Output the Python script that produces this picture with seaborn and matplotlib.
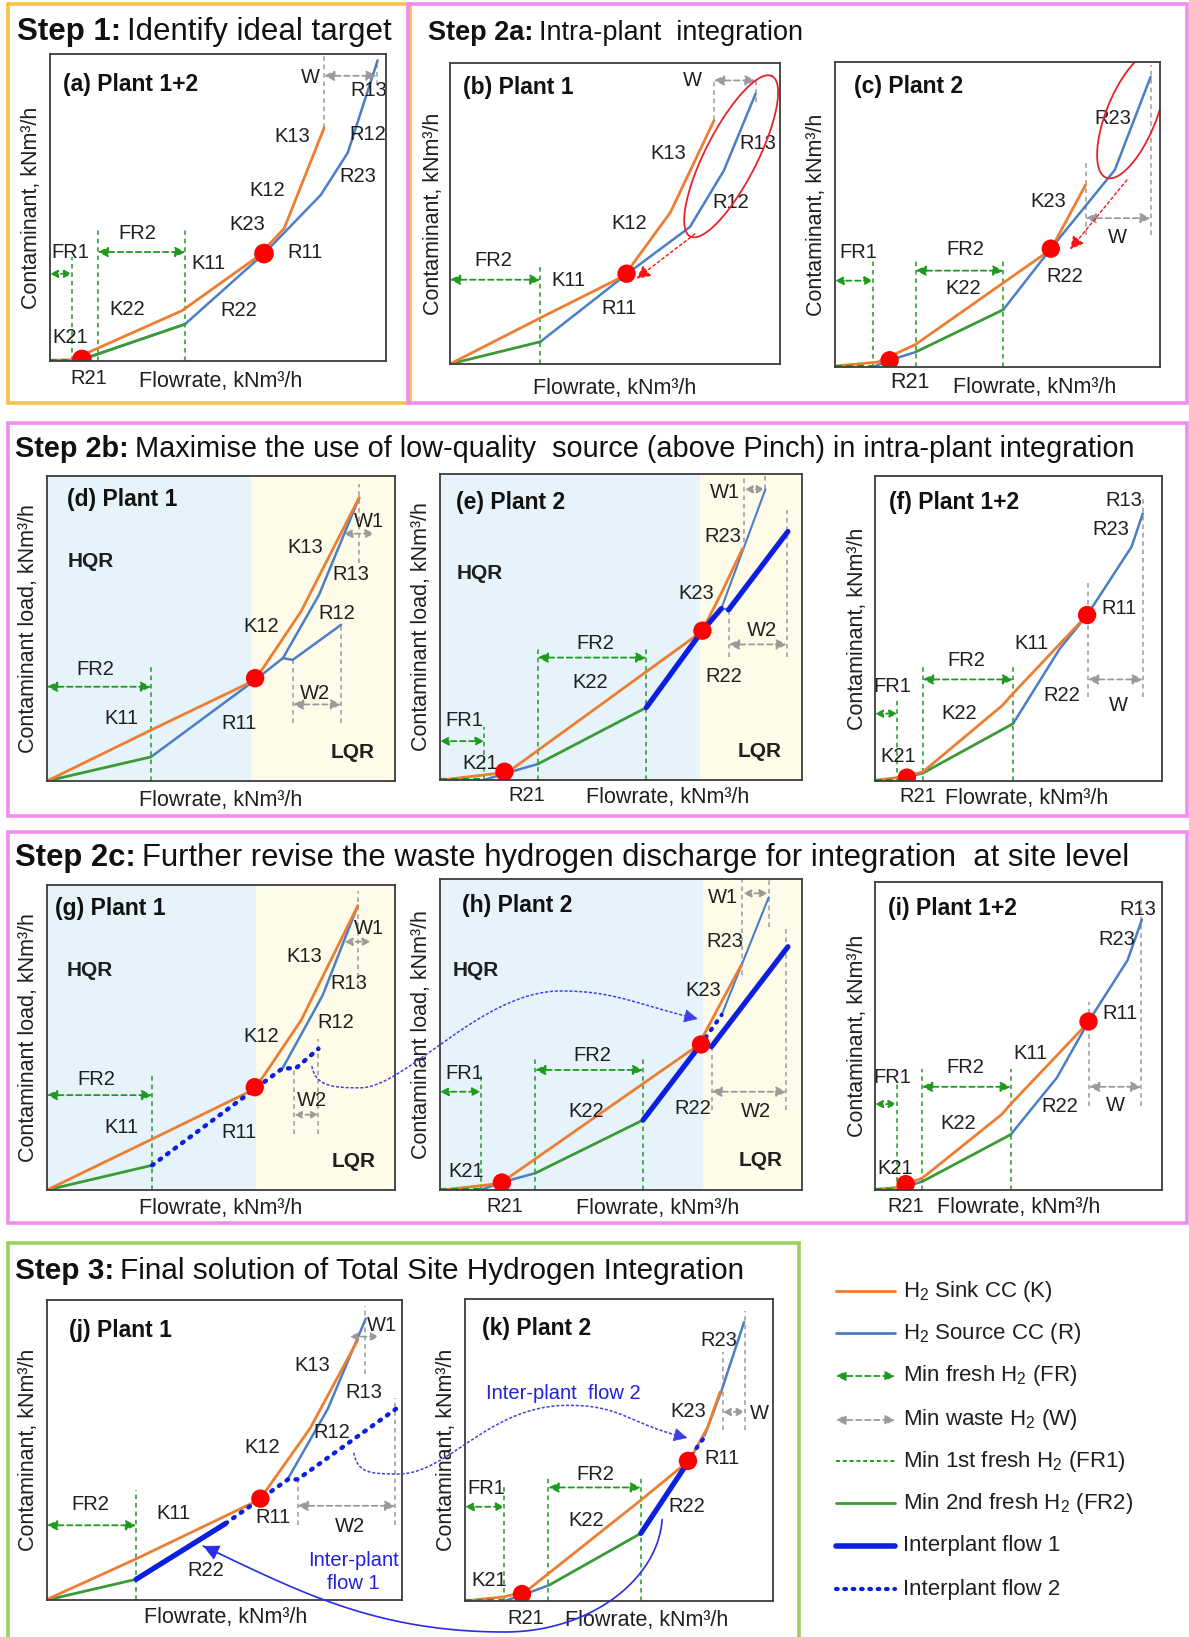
import numpy as np
import matplotlib
matplotlib.use("Agg")
import matplotlib.pyplot as plt
import seaborn as sns

sns.set_theme(style="white")
plt.rcParams["font.family"] = ["Liberation Sans", "DejaVu Sans"]
plt.rcParams["mathtext.fontset"] = "custom"
plt.rcParams["mathtext.rm"] = "Liberation Sans"
plt.rcParams["mathtext.it"] = "Liberation Sans:italic"
plt.rcParams["mathtext.bf"] = "Liberation Sans:bold"

# ---------------- DATA (curve vertices, fractions of each panel) ----------------
A_SINK = [(0, 0.002), (0.065, 0.004), (0.393, 0.164), (0.617, 0.339), (0.697, 0.432), (0.816, 0.760)]
A_SOURCE = [(0.065, 0.0), (0.095, 0.005), (0.402, 0.12), (0.637, 0.35), (0.806, 0.541), (0.886, 0.678), (0.975, 0.979)]
A_FR2 = [(0.095, 0.005), (0.402, 0.12)]
A_PINCH = [(0.095, 0.005), (0.637, 0.35)]

B_SINK = [(0, 0), (0.277, 0.155), (0.528, 0.293), (0.668, 0.504), (0.80, 0.809)]
B_FR2 = [(0, 0), (0.274, 0.074)]
B_SOURCE = [(0.274, 0.074), (0.543, 0.305), (0.727, 0.455), (0.83, 0.643), (0.926, 0.898)]
B_PINCH = [(0.535, 0.30)]

C_SINK = [(0, 0.003), (0.131, 0.016), (0.248, 0.074), (0.518, 0.276), (0.664, 0.385), (0.771, 0.597)]
C_SOURCE_LOW = [(0.117, 0), (0.168, 0.022), (0.248, 0.049)]
C_FR2 = [(0.248, 0.049), (0.518, 0.188)]
C_SOURCE = [(0.518, 0.188), (0.664, 0.388), (0.861, 0.646), (0.971, 0.951)]
C_PINCH = [(0.168, 0.022), (0.664, 0.388)]

D_SINK = [(0, 0), (0.299, 0.167), (0.598, 0.331), (0.730, 0.556), (0.897, 0.929)]
D_FR2 = [(0, 0), (0.299, 0.079)]
D_SOURCE = [(0.299, 0.079), (0.598, 0.331), (0.678, 0.403), (0.782, 0.611), (0.897, 0.929)]
D_SOURCE_R12 = [(0.678, 0.403), (0.706, 0.397), (0.845, 0.512)]
D_PINCH = [(0.598, 0.337)]

E_SINK = [(0.005, 0), (0.161, 0.022), (0.196, 0.033), (0.57, 0.354), (0.723, 0.485), (0.777, 0.61), (0.836, 0.757)]
E_SOURCE_LOW = [(0.122, 0), (0.181, 0.022), (0.27, 0.052)]
E_FR2 = [(0.27, 0.052), (0.57, 0.237)]
E_IP1 = [(0.57, 0.237), (0.723, 0.485), (0.777, 0.56)]
E_SOURCE_UP = [(0.777, 0.56), (0.899, 0.95)]
E_KINK = [(0.777, 0.56), (0.797, 0.558)]
E_IP1_SHIFT = [(0.797, 0.556), (0.961, 0.812)]
E_PINCH = [(0.178, 0.027), (0.725, 0.488)]

F_SINK = [(0, 0.002), (0.094, 0.013), (0.167, 0.03), (0.444, 0.248), (0.481, 0.287), (0.739, 0.544)]
F_SOURCE_LOW = [(0.078, 0), (0.111, 0.011), (0.167, 0.026)]
F_FR2 = [(0.167, 0.026), (0.481, 0.188)]
F_SOURCE = [(0.481, 0.188), (0.644, 0.434), (0.739, 0.544), (0.894, 0.768), (0.933, 0.877)]
F_PINCH = [(0.111, 0.011), (0.739, 0.544)]

G_SINK = [(0, 0), (0.302, 0.167), (0.597, 0.331), (0.73, 0.556), (0.893, 0.932)]
G_FR2 = [(0, 0), (0.302, 0.081)]
G_IP2 = [(0.302, 0.081), (0.597, 0.331), (0.677, 0.399), (0.715, 0.399), (0.78, 0.463)]
G_SOURCE = [(0.677, 0.399), (0.792, 0.638), (0.893, 0.932)]
G_PINCH = [(0.597, 0.337)]

H_SINK = [(0.008, 0), (0.166, 0.021), (0.556, 0.338), (0.714, 0.466), (0.778, 0.606), (0.832, 0.723)]
H_SOURCE_LOW = [(0.112, 0), (0.171, 0.025), (0.263, 0.054)]
H_FR2 = [(0.263, 0.054), (0.561, 0.225)]
H_IP1 = [(0.561, 0.225), (0.719, 0.466)]
H_IP1_SHIFT = [(0.75, 0.461), (0.961, 0.782)]
H_IP2 = [(0.719, 0.466), (0.778, 0.563)]
H_SOURCE_UP = [(0.778, 0.563), (0.908, 0.941)]
H_PINCH = [(0.171, 0.024), (0.721, 0.468)]

I_SINK = [(0, 0.002), (0.075, 0.008), (0.164, 0.038), (0.441, 0.245), (0.473, 0.279), (0.744, 0.545)]
I_SOURCE_LOW = [(0.075, 0), (0.107, 0.011), (0.164, 0.027)]
I_FR2 = [(0.164, 0.027), (0.473, 0.18)]
I_SOURCE = [(0.473, 0.18), (0.634, 0.365), (0.744, 0.547), (0.88, 0.746), (0.93, 0.878)]
I_PINCH = [(0.107, 0.019), (0.744, 0.547)]

J_SINK = [(0, 0.002), (0.251, 0.137), (0.599, 0.335), (0.741, 0.572), (0.876, 0.868)]
J_FR2 = [(0, 0), (0.251, 0.069)]
J_IP1 = [(0.251, 0.069), (0.503, 0.255)]
J_IP2 = [(0.503, 0.255), (0.599, 0.335), (0.679, 0.402), (0.706, 0.402), (0.983, 0.637)]
J_SOURCE = [(0.679, 0.405), (0.791, 0.637), (0.898, 0.938)]
J_PINCH = [(0.601, 0.338)]

K_SINK = [(0, 0), (0.128, 0.014), (0.197, 0.031), (0.571, 0.334), (0.729, 0.466), (0.788, 0.576), (0.828, 0.692)]
K_SOURCE_LOW = [(0.128, 0), (0.187, 0.02), (0.274, 0.053)]
K_FR2 = [(0.274, 0.053), (0.571, 0.224)]
K_IP1 = [(0.571, 0.224), (0.724, 0.46)]
K_IP2 = [(0.734, 0.482), (0.778, 0.543)]
K_SOURCE_UP = [(0.778, 0.548), (0.833, 0.697), (0.906, 0.923)]
K_PINCH = [(0.185, 0.023), (0.724, 0.464)]

LEGEND_LABELS = [r"H$_2$ Sink CC (K)", r"H$_2$ Source CC (R)", r"Min fresh H$_2$ (FR)",
                 r"Min waste H$_2$ (W)", r"Min 1st fresh H$_2$ (FR1)", r"Min 2nd fresh H$_2$ (FR2)",
                 "Interplant flow 1", "Interplant flow 2"]

# ---------------- STYLE ----------------
ORANGE = "#ED7D31"
BLUE = "#4A7EC7"
GREEN = "#3A9A35"
DGREEN = "#1E9B1E"
IPBLUE = "#0A1FE0"
IP2C = "#3F3FE8"
GREY = "#9A9A9A"
HQR_BG = "#E6F3FB"
LQR_BG = "#FEFCE9"
GOLD = "#F5C445"
MAGENTA = "#F28CF0"
LGREEN = "#9BD35A"
TXT = "#1f1f1f"
LBL = 14.5

W, H = 1189, 1637
fig = plt.figure(figsize=(W / 100, H / 100), dpi=100)
fig.patch.set_facecolor("white")

RA = (50, 54, 386, 361)
RB = (450, 63, 780, 364)
RC = (835, 62, 1160, 367)
RD = (47, 476, 395, 781)
RE = (440, 474, 802, 780)
RF = (875, 476, 1162, 781)
RG = (47, 885, 395, 1190)
RH = (440, 879, 802, 1190)
RI = (875, 882, 1162, 1190)
RJ = (47, 1300, 402, 1600)
RK = (465, 1299, 773, 1601)


def mk(rect):
    x0, y0, x1, y1 = rect
    ax = fig.add_axes([x0 / W, 1 - y1 / H, (x1 - x0) / W, (y1 - y0) / H])
    ax.set_facecolor("white")
    for s in ax.spines.values():
        s.set_visible(True)
        s.set_color("#3c3c3c")
        s.set_linewidth(1.3)
        s.set_zorder(20)
    return ax


def fin(ax):
    ax.set_xlim(0, 1)
    ax.set_ylim(0, 1)
    ax.set_xticks([])
    ax.set_yticks([])
    ax.set_xlabel("")
    ax.set_ylabel("")


def line(ax, pts, color, lw=1.8, ls="-", z=3, cap="round"):
    xs = [p[0] for p in pts]
    ys = [p[1] for p in pts]
    sns.lineplot(x=xs, y=ys, sort=False, estimator=None, color=color, linewidth=lw,
                 linestyle=ls, ax=ax, zorder=z, legend=False,
                 solid_capstyle=cap, dash_capstyle=cap)


def dots(ax, pts, s=175):
    sns.scatterplot(x=[p[0] for p in pts], y=[p[1] for p in pts], s=s, color="#FF0000",
                    edgecolor="none", linewidth=0, ax=ax, zorder=8, legend=False)


def vl(ax, x, y0, y1, color):
    ax.plot([x, x], [y0, y1], color=color, lw=1.1, ls=(0, (3, 2.5)), zorder=2)


def darrow(ax, x0, x1, y, color, ms=15):
    ax.annotate("", xy=(x1, y), xytext=(x0, y),
                arrowprops=dict(arrowstyle="<|-|>", color=color, lw=1.3, linestyle=(0, (3, 2)),
                                mutation_scale=ms, shrinkA=0, shrinkB=0),
                annotation_clip=False, zorder=4)


def fr1base(ax, x1):
    ax.plot([0, x1], [0.004, 0.004], color=DGREEN, lw=1.6, ls=(0, (3, 2)), zorder=4)


def t(ax, s, x, y, size=LBL, ha="center", **kw):
    ax.text(x, y, s, fontsize=size, ha=ha, va="center", color=kw.pop("color", TXT), **kw)


def plabel(ax, s, x, y):
    ax.text(x, y, s, fontsize=16.5, fontweight="bold", ha="left", va="center", color="#111111")


def axlabels(ax, ylab, xl_x, xl_y=-0.065, yl_x=-0.055):
    ax.text(xl_x, xl_y, "Flowrate, kNm³/h", fontsize=15.5, ha="center", va="center", color=TXT)
    ax.text(yl_x, 0.5, ylab, fontsize=15.5, ha="center", va="center", rotation=90, color=TXT)


def bg(ax, split):
    ax.axvspan(0, split, color=HQR_BG, zorder=0, lw=0)
    ax.axvspan(split, 1, color=LQR_BG, zorder=0, lw=0)


def ellipse(ax, rect, cx, cy, L, m, ang):
    x0, y0, x1, y1 = rect
    w, h = x1 - x0, y1 - y0
    tt = np.linspace(0, 2 * np.pi, 200)
    a = np.deg2rad(ang)
    ex = L / 2 * np.cos(tt) * np.cos(a) - m / 2 * np.sin(tt) * np.sin(a)
    ey = L / 2 * np.cos(tt) * np.sin(a) + m / 2 * np.sin(tt) * np.cos(a)
    ax.plot(cx + ex / w, cy + ey / h, color="#E8212B", lw=1.3, zorder=5)


def redarrow(ax, p0, p1):
    ax.annotate("", xy=p1, xytext=p0,
                arrowprops=dict(arrowstyle="-|>", color="#FF1010", lw=1.0, linestyle=(0, (2, 2)),
                                mutation_scale=20, shrinkA=0, shrinkB=0), zorder=6)


CONT = "Contaminant, kNm³/h"
CONTL = "Contaminant load, kNm³/h"

# ---------------- (a) ----------------
ax = mk(RA)
line(ax, A_SOURCE, BLUE)
line(ax, A_FR2, GREEN, lw=2)
line(ax, A_SINK, ORANGE, lw=2)
fr1base(ax, 0.065)
vl(ax, 0.065, 0, 0.339, DGREEN); vl(ax, 0.142, 0, 0.432, DGREEN); vl(ax, 0.403, 0, 0.432, DGREEN)
vl(ax, 0.816, 0.76, 1.0, GREY); vl(ax, 0.972, 0.9, 0.97, GREY)
darrow(ax, 0.0, 0.065, 0.284, DGREEN, ms=11)
darrow(ax, 0.142, 0.403, 0.355, DGREEN)
darrow(ax, 0.816, 0.972, 0.929, GREY)
dots(ax, A_PINCH, s=200)
plabel(ax, "(a) Plant 1+2", 0.04, 0.902)
for s, x, y in [("W", 0.776, 0.924), ("R13", 0.95, 0.88), ("K13", 0.72, 0.73), ("R12", 0.945, 0.738),
                ("R23", 0.915, 0.60), ("K12", 0.647, 0.557), ("K23", 0.587, 0.443), ("R11", 0.76, 0.355),
                ("FR2", 0.26, 0.415), ("FR1", 0.06, 0.355), ("K11", 0.473, 0.317), ("K22", 0.229, 0.169),
                ("R22", 0.562, 0.164), ("K21", 0.06, 0.077), ("R21", 0.114, -0.058)]:
    t(ax, s, x, y)
axlabels(ax, CONT, 0.507, -0.068, -0.055)
fin(ax)

# ---------------- (b) ----------------
ax = mk(RB)
line(ax, B_SOURCE, BLUE)
line(ax, B_FR2, GREEN, lw=2)
line(ax, B_SINK, ORANGE, lw=2)
vl(ax, 0.274, 0, 0.33, DGREEN)
vl(ax, 0.80, 0.81, 0.95, GREY); vl(ax, 0.926, 0.87, 0.95, GREY)
darrow(ax, 0.0, 0.274, 0.28, DGREEN)
darrow(ax, 0.80, 0.926, 0.942, GREY)
ellipse(ax, RB, 0.852, 0.69, 180, 52, 63)
redarrow(ax, (0.742, 0.432), (0.565, 0.283))
dots(ax, B_PINCH)
plabel(ax, "(b) Plant 1", 0.04, 0.92)
for s, x, y in [("W", 0.735, 0.942), ("K13", 0.66, 0.698), ("R13", 0.934, 0.732), ("R12", 0.852, 0.538),
                ("K12", 0.543, 0.466), ("FR2", 0.13, 0.344), ("K11", 0.358, 0.277), ("R11", 0.513, 0.183)]:
    t(ax, s, x, y)
axlabels(ax, CONT, 0.5, -0.083, -0.05)
fin(ax)

# ---------------- (c) ----------------
ax = mk(RC)
line(ax, C_SOURCE_LOW, BLUE)
line(ax, C_SOURCE, BLUE)
line(ax, C_FR2, GREEN, lw=2)
line(ax, C_SINK, ORANGE, lw=2)
fr1base(ax, 0.117)
vl(ax, 0.117, 0, 0.352, DGREEN); vl(ax, 0.248, 0, 0.352, DGREEN); vl(ax, 0.518, 0, 0.352, DGREEN)
vl(ax, 0.771, 0.434, 0.673, GREY); vl(ax, 0.971, 0.434, 0.99, GREY)
darrow(ax, 0.0, 0.117, 0.283, DGREEN, ms=12)
darrow(ax, 0.248, 0.518, 0.316, DGREEN)
darrow(ax, 0.771, 0.971, 0.488, GREY)
ellipse(ax, RC, 0.912, 0.826, 135, 50, 68)
redarrow(ax, (0.898, 0.613), (0.723, 0.385))
dots(ax, C_PINCH)
plabel(ax, "(c) Plant 2", 0.058, 0.92)
for s, x, y in [("R23", 0.854, 0.815), ("K23", 0.657, 0.542), ("FR1", 0.073, 0.374), ("FR2", 0.401, 0.385),
                ("K22", 0.394, 0.259), ("R22", 0.708, 0.297), ("W", 0.869, 0.425), ("R21", 0.231, -0.05)]:
    t(ax, s, x, y, size=15.5 if s == "R21" else LBL)
axlabels(ax, CONT, 0.613, -0.068, -0.058)
fin(ax)

# ---------------- (d) ----------------
ax = mk(RD)
bg(ax, 0.586)
line(ax, D_SOURCE, BLUE)
line(ax, D_SOURCE_R12, BLUE)
line(ax, D_FR2, GREEN, lw=2)
line(ax, D_SINK, ORANGE, lw=2)
vl(ax, 0.299, 0, 0.376, DGREEN)
vl(ax, 0.897, 0.715, 0.973, GREY); vl(ax, 0.707, 0.189, 0.397, GREY); vl(ax, 0.845, 0.189, 0.512, GREY)
darrow(ax, 0.0, 0.299, 0.309, DGREEN)
darrow(ax, 0.853, 0.94, 0.811, GREY, ms=12)
darrow(ax, 0.707, 0.845, 0.251, GREY)
dots(ax, D_PINCH)
plabel(ax, "(d) Plant 1", 0.057, 0.923)
t(ax, "HQR", 0.06, 0.72, size=15, ha="left", fontweight="bold")
t(ax, "LQR", 0.879, 0.095, size=15, fontweight="bold")
for s, x, y in [("K13", 0.741, 0.764), ("R13", 0.874, 0.677), ("R12", 0.833, 0.548), ("K12", 0.615, 0.507),
                ("K11", 0.213, 0.205), ("R11", 0.552, 0.189), ("FR2", 0.138, 0.364), ("W1", 0.925, 0.852),
                ("W2", 0.77, 0.287)]:
    t(ax, s, x, y)
axlabels(ax, CONTL, 0.5, -0.064, -0.052)
fin(ax)

# ---------------- (e) ----------------
ax = mk(RE)
bg(ax, 0.717)
line(ax, E_SOURCE_LOW, BLUE)
line(ax, E_SOURCE_UP, BLUE, lw=1.5)
line(ax, E_KINK, BLUE, lw=1.5)
line(ax, E_FR2, GREEN, lw=2)
line(ax, E_SINK, ORANGE, lw=2)
line(ax, E_IP1, IPBLUE, lw=3.8, z=4)
line(ax, E_IP1_SHIFT, IPBLUE, lw=3.8, z=4)
fr1base(ax, 0.122)
vl(ax, 0.122, 0, 0.174, DGREEN); vl(ax, 0.27, 0, 0.43, DGREEN); vl(ax, 0.57, 0, 0.43, DGREEN)
vl(ax, 0.839, 0.779, 0.997, GREY); vl(ax, 0.899, 0.95, 0.997, GREY)
vl(ax, 0.798, 0.403, 0.556, GREY); vl(ax, 0.958, 0.403, 0.882, GREY)
darrow(ax, 0.0, 0.122, 0.127, DGREEN, ms=12)
darrow(ax, 0.27, 0.57, 0.40, DGREEN)
darrow(ax, 0.842, 0.897, 0.95, GREY, ms=11)
darrow(ax, 0.798, 0.958, 0.443, GREY)
dots(ax, E_PINCH)
plabel(ax, "(e) Plant 2", 0.045, 0.907)
t(ax, "HQR", 0.045, 0.674, size=15, ha="left", fontweight="bold")
t(ax, "LQR", 0.884, 0.093, size=15, fontweight="bold")
for s, x, y in [("W1", 0.787, 0.94), ("R23", 0.78, 0.797), ("K23", 0.709, 0.61), ("W2", 0.89, 0.49),
                ("R22", 0.784, 0.338), ("FR2", 0.43, 0.447), ("K22", 0.415, 0.318), ("FR1", 0.068, 0.196),
                ("K21", 0.112, 0.054), ("R21", 0.24, -0.052)]:
    t(ax, s, x, y)
axlabels(ax, CONTL, 0.63, -0.058, -0.052)
fin(ax)

# ---------------- (f) ----------------
ax = mk(RF)
line(ax, F_SOURCE_LOW, BLUE)
line(ax, F_SOURCE, BLUE)
line(ax, F_FR2, GREEN, lw=2)
line(ax, F_SINK, ORANGE, lw=2)
fr1base(ax, 0.078)
vl(ax, 0.078, 0, 0.265, DGREEN); vl(ax, 0.167, 0, 0.374, DGREEN); vl(ax, 0.481, 0, 0.374, DGREEN)
vl(ax, 0.742, 0.276, 0.648, GREY); vl(ax, 0.933, 0.276, 0.932, GREY)
darrow(ax, 0.0, 0.078, 0.221, DGREEN, ms=11)
darrow(ax, 0.167, 0.481, 0.333, DGREEN)
darrow(ax, 0.742, 0.933, 0.333, GREY)
dots(ax, F_PINCH)
plabel(ax, "(f) Plant 1+2", 0.05, 0.912)
for s, x, y in [("R13", 0.867, 0.921), ("R23", 0.822, 0.823), ("R11", 0.85, 0.566), ("K11", 0.544, 0.451),
                ("FR2", 0.317, 0.396), ("FR1", 0.061, 0.309), ("R22", 0.65, 0.281), ("W", 0.848, 0.248),
                ("K22", 0.294, 0.221), ("K21", 0.081, 0.079), ("R21", 0.148, -0.052)]:
    t(ax, s, x, y)
axlabels(ax, CONT, 0.53, -0.058, -0.06)
fin(ax)

# ---------------- (g) ----------------
ax = mk(RG)
bg(ax, 0.601)
line(ax, G_SOURCE, BLUE)
line(ax, G_FR2, GREEN, lw=2)
line(ax, G_SINK, ORANGE, lw=2)
line(ax, G_IP2, IPBLUE, lw=3.2, ls=(0, (0.4, 1.7)), z=5)
vl(ax, 0.302, 0, 0.375, DGREEN)
vl(ax, 0.893, 0.67, 0.98, GREY); vl(ax, 0.711, 0.183, 0.397, GREY); vl(ax, 0.78, 0.183, 0.496, GREY)
darrow(ax, 0.0, 0.302, 0.311, DGREEN)
darrow(ax, 0.855, 0.93, 0.814, GREY, ms=11)
darrow(ax, 0.711, 0.78, 0.247, GREY, ms=10)
dots(ax, G_PINCH)
plabel(ax, "(g) Plant 1", 0.022, 0.923)
t(ax, "HQR", 0.057, 0.72, size=15, ha="left", fontweight="bold")
t(ax, "LQR", 0.88, 0.095, size=15, fontweight="bold")
for s, x, y in [("K13", 0.74, 0.764), ("R13", 0.868, 0.677), ("R12", 0.83, 0.55), ("K12", 0.616, 0.504),
                ("K11", 0.214, 0.205), ("R11", 0.553, 0.189), ("FR2", 0.141, 0.362), ("W1", 0.925, 0.857),
                ("W2", 0.761, 0.293)]:
    t(ax, s, x, y)
axlabels(ax, CONTL, 0.5, -0.062, -0.052)
fin(ax)

# ---------------- (h) ----------------
ax = mk(RH)
bg(ax, 0.727)
line(ax, H_SOURCE_LOW, BLUE)
line(ax, H_SOURCE_UP, BLUE, lw=1.5)
line(ax, H_FR2, GREEN, lw=2)
line(ax, H_SINK, ORANGE, lw=2)
line(ax, H_IP1, IPBLUE, lw=3.8, z=4)
line(ax, H_IP1_SHIFT, IPBLUE, lw=3.8, z=4)
line(ax, H_IP2, IPBLUE, lw=3.0, ls=(0, (0.4, 1.8)), z=5)
fr1base(ax, 0.112)
vl(ax, 0.112, 0, 0.375, DGREEN); vl(ax, 0.263, 0, 0.423, DGREEN); vl(ax, 0.561, 0, 0.423, DGREEN)
vl(ax, 0.835, 0.691, 1.0, GREY); vl(ax, 0.908, 0.847, 1.0, GREY)
vl(ax, 0.75, 0.257, 0.461, GREY); vl(ax, 0.957, 0.257, 0.841, GREY)
darrow(ax, 0.0, 0.112, 0.316, DGREEN, ms=12)
darrow(ax, 0.263, 0.561, 0.386, DGREEN)
darrow(ax, 0.838, 0.905, 0.954, GREY, ms=11)
darrow(ax, 0.75, 0.957, 0.316, GREY)
dots(ax, H_PINCH)
plabel(ax, "(h) Plant 2", 0.062, 0.916)
t(ax, "HQR", 0.035, 0.707, size=15, ha="left", fontweight="bold")
t(ax, "LQR", 0.886, 0.096, size=15, fontweight="bold")
for s, x, y in [("W1", 0.783, 0.941), ("R23", 0.788, 0.798), ("K23", 0.727, 0.643), ("FR2", 0.422, 0.434),
                ("FR1", 0.067, 0.375), ("R22", 0.697, 0.263), ("W2", 0.872, 0.252), ("K22", 0.403, 0.254),
                ("K21", 0.072, 0.061), ("R21", 0.18, -0.052)]:
    t(ax, s, x, y)
axlabels(ax, CONTL, 0.6, -0.058, -0.052)
fin(ax)

# ---------------- (i) ----------------
ax = mk(RI)
line(ax, I_SOURCE_LOW, BLUE)
line(ax, I_SOURCE, BLUE)
line(ax, I_FR2, GREEN, lw=2)
line(ax, I_SINK, ORANGE, lw=2)
fr1base(ax, 0.075)
vl(ax, 0.075, 0, 0.355, DGREEN); vl(ax, 0.164, 0, 0.392, DGREEN); vl(ax, 0.473, 0, 0.392, DGREEN)
vl(ax, 0.746, 0.274, 0.612, GREY); vl(ax, 0.928, 0.274, 0.944, GREY)
darrow(ax, 0.0, 0.075, 0.279, DGREEN, ms=11)
darrow(ax, 0.164, 0.473, 0.335, DGREEN)
darrow(ax, 0.746, 0.928, 0.335, GREY)
dots(ax, I_PINCH)
plabel(ax, "(i) Plant 1+2", 0.044, 0.914)
for s, x, y in [("R13", 0.916, 0.91), ("R23", 0.843, 0.813), ("R11", 0.854, 0.574), ("K11", 0.54, 0.442),
                ("FR2", 0.316, 0.397), ("FR1", 0.06, 0.365), ("R22", 0.645, 0.27), ("W", 0.836, 0.274),
                ("K22", 0.289, 0.215), ("K21", 0.07, 0.07), ("R21", 0.107, -0.052)]:
    t(ax, s, x, y)
axlabels(ax, CONT, 0.5, -0.058, -0.06)
fin(ax)

# ---------------- (j) ----------------
ax = mk(RJ)
line(ax, J_SOURCE, BLUE)
line(ax, J_FR2, GREEN, lw=2)
line(ax, J_SINK, ORANGE, lw=2)
line(ax, J_IP1, IPBLUE, lw=3.8, z=4)
line(ax, J_IP2, IPBLUE, lw=3.2, ls=(0, (0.4, 1.7)), z=5)
vl(ax, 0.251, 0, 0.368, DGREEN)
vl(ax, 0.895, 0.755, 0.981, GREY); vl(ax, 0.706, 0.249, 0.4, GREY); vl(ax, 0.981, 0.249, 0.674, GREY)
darrow(ax, 0.0, 0.251, 0.249, DGREEN)
darrow(ax, 0.853, 0.935, 0.878, GREY, ms=11)
darrow(ax, 0.706, 0.981, 0.314, GREY)
dots(ax, J_PINCH)
plabel(ax, "(j) Plant 1", 0.062, 0.9)
for s, x, y in [("W1", 0.944, 0.916), ("K13", 0.746, 0.782), ("R13", 0.893, 0.69), ("R12", 0.802, 0.559),
                ("K12", 0.605, 0.508), ("FR2", 0.122, 0.319), ("K11", 0.356, 0.287), ("R11", 0.638, 0.276),
                ("W2", 0.853, 0.244), ("R22", 0.446, 0.099)]:
    t(ax, s, x, y)
t(ax, "Inter-plant", 0.864, 0.131, color="#2020E0")
t(ax, "flow 1", 0.864, 0.056, color="#2020E0")
axlabels(ax, CONT, 0.503, -0.06, -0.051)
fin(ax)

# ---------------- (k) ----------------
ax = mk(RK)
line(ax, K_SOURCE_LOW, BLUE)
line(ax, K_SOURCE_UP, BLUE)
line(ax, K_FR2, GREEN, lw=2)
line(ax, K_SINK, ORANGE, lw=2)
line(ax, K_IP1, IPBLUE, lw=3.8, z=4)
line(ax, K_IP2, IPBLUE, lw=3.0, ls=(0, (0.4, 1.8)), z=5)
fr1base(ax, 0.128)
vl(ax, 0.128, 0, 0.378, DGREEN); vl(ax, 0.271, 0, 0.411, DGREEN); vl(ax, 0.571, 0, 0.411, DGREEN)
vl(ax, 0.837, 0.565, 0.824, GREY); vl(ax, 0.908, 0.565, 0.961, GREY)
darrow(ax, 0.0, 0.128, 0.312, DGREEN, ms=12)
darrow(ax, 0.271, 0.571, 0.376, DGREEN)
darrow(ax, 0.837, 0.908, 0.626, GREY, ms=11)
dots(ax, K_PINCH)
plabel(ax, "(k) Plant 2", 0.054, 0.903)
for s, x, y in [("R23", 0.823, 0.862), ("K23", 0.724, 0.626), ("W", 0.956, 0.62), ("R11", 0.835, 0.471),
                ("FR2", 0.424, 0.42), ("FR1", 0.069, 0.372), ("R22", 0.719, 0.312), ("K22", 0.394, 0.265),
                ("K21", 0.079, 0.069), ("R21", 0.197, -0.057)]:
    t(ax, s, x, y)
t(ax, "Inter-plant  flow 2", 0.32, 0.686, color="#2020E0")
axlabels(ax, CONT, 0.591, -0.063, -0.059)
fin(ax)

# ---------------- overlay: boxes, titles, connectors, legend ----------------
ov = fig.add_axes([0, 0, 1, 1], zorder=30)
ov.set_xlim(0, W)
ov.set_ylim(H, 0)
ov.axis("off")
ov.patch.set_alpha(0)


def box(x0, y0, x1, y1, color):
    ov.plot([x0, x1, x1, x0, x0], [y0, y0, y1, y1, y0], color=color, lw=2.6, solid_joinstyle="miter")


box(8, 4, 410, 403, GOLD)
box(408, 4, 1187, 403, MAGENTA)
box(8, 423, 1187, 816, MAGENTA)
box(8, 832, 1187, 1223, MAGENTA)
box(8, 1243, 799, 1645, LGREEN)

renderer = fig.canvas.get_renderer()


def title(x, y, bold, rest, size):
    tb = ov.text(x, y, bold, fontsize=size, fontweight="bold", va="center", ha="left", color="#111111")
    bb = tb.get_window_extent(renderer=renderer)
    ov.text(bb.x1 + 6, y, rest, fontsize=size, va="center", ha="left", color="#111111")


title(17, 32, "Step 1:", "Identify ideal target", 22.5)
title(428, 33, "Step 2a:", "Intra-plant  integration", 19.5)
title(15, 449, "Step 2b:", "Maximise the use of low-quality  source (above Pinch) in intra-plant integration", 20.8)
title(15, 858, "Step 2c:", "Further revise the waste hydrogen discharge for integration  at site level", 22.3)
title(15, 1271, "Step 3:", "Final solution of Total Site Hydrogen Integration", 21.4)


def P(rect, fx, fy):
    x0, y0, x1, y1 = rect
    return np.array([x0 + fx * (x1 - x0), y1 - fy * (y1 - y0)])


def bez(p0, c1, c2, p3, n=80):
    tt = np.linspace(0, 1, n)[:, None]
    return (1 - tt) ** 3 * p0 + 3 * (1 - tt) ** 2 * tt * c1 + 3 * (1 - tt) * tt ** 2 * c2 + tt ** 3 * p3


def connector(segs, color, lw, ls, head_ms=22):
    pts = np.vstack([bez(*s) for s in segs])
    ov.plot(pts[:, 0], pts[:, 1], color=color, lw=lw, ls=ls)
    end = pts[-1]
    prev = pts[-6]
    ov.annotate("", xy=tuple(end), xytext=tuple(prev),
                arrowprops=dict(arrowstyle="-|>", color=color, lw=0.5, mutation_scale=head_ms,
                                shrinkA=0, shrinkB=0))


# Step 2c: inter-plant flow 2 from (g) to (h)
s0 = P(RG, 0.761, 0.406); v0 = P(RG, 0.90, 0.335); pk = P(RH, 0.334, 0.64); e0 = P(RH, 0.712, 0.55)
connector([(s0, s0 + [4, 20], v0 + [-28, 0], v0),
           (v0, v0 + [45, 0], pk + [-80, 0], pk),
           (pk, pk + [55, 0], e0 + [-60, -14], e0)], IP2C, 1.1, (0, (2, 1.2)))

# Step 3: inter-plant flow 2 from (j) to (k)
s1 = P(RJ, 0.864, 0.491); v1 = P(RJ, 0.99, 0.42); pk1 = P(RK, 0.335, 0.648); e1 = P(RK, 0.722, 0.54)
connector([(s1, s1 + [4, 20], v1 + [-30, 0], v1),
           (v1, v1 + [50, 0], pk1 + [-80, 0], pk1),
           (pk1, pk1 + [55, 0], e1 + [-60, -14], e1)], IP2C, 1.1, (0, (2, 1.2)))

# Step 3: inter-plant flow 1 from (k) to (j)
s2 = P(RK, 0.64, 0.27); b2 = np.array([505.0, 1632.0]); t2 = P(RJ, 0.44, 0.18)
connector([(s2, s2 + [-4, 60], b2 + [85, 0], b2),
           (b2, b2 + [-130, 0], t2 + [95, 45], t2)], "#2B2BE6", 1.2, "-", head_ms=26)

# legend
LEG_Y = [1291, 1333, 1376, 1420, 1461, 1503, 1546, 1589]
lx0, lx1 = 836, 895
for i, (lab, y) in enumerate(zip(LEGEND_LABELS, LEG_Y)):
    if i == 0:
        ov.plot([lx0, lx1], [y, y], color=ORANGE, lw=2)
    elif i == 1:
        ov.plot([lx0, lx1], [y, y], color=BLUE, lw=2)
    elif i in (2, 3):
        c = DGREEN if i == 2 else GREY
        ov.annotate("", xy=(lx1, y), xytext=(lx0, y),
                    arrowprops=dict(arrowstyle="<|-|>", color=c, lw=1.3, linestyle=(0, (3, 2)),
                                    mutation_scale=14, shrinkA=0, shrinkB=0))
    elif i == 4:
        ov.plot([lx0, lx1], [y, y], color=DGREEN, lw=1.4, ls=(0, (2, 1.5)))
    elif i == 5:
        ov.plot([lx0, lx1], [y, y], color=GREEN, lw=2)
    elif i == 6:
        ov.plot([lx0, lx1], [y, y], color=IPBLUE, lw=4)
    else:
        ov.plot([lx0, lx1], [y, y], color=IPBLUE, lw=3, ls=(0, (0.4, 1.6)), dash_capstyle="round")
    ov.text(903, y, lab, fontsize=16, va="center", ha="left", color=TXT)

fig.savefig("out.png", dpi=100, facecolor="white")
